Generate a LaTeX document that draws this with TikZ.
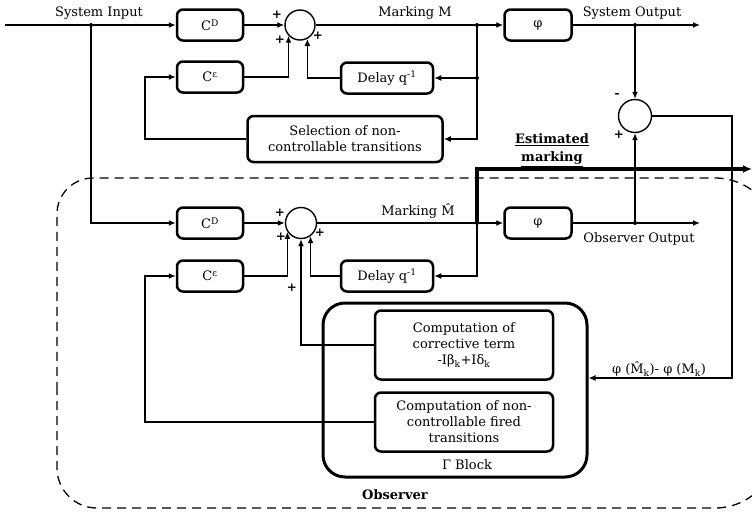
\documentclass[tikz,border=0pt]{standalone}
\usepackage{fontspec}
\setmainfont{DejaVu Serif}
\usetikzlibrary{arrows.meta,calc}
\begin{document}
\begin{tikzpicture}[x=1pt,y=-1pt,
  every node/.style={font=\fontsize{13}{16}\selectfont, inner sep=0pt},
  blk/.style={draw, line width=2.5pt, rounded corners=6pt, minimum width=66pt, minimum height=31pt, align=center},
  sumc/.style={draw, circle, line width=1.4pt, minimum size=30pt},
  wire/.style={line width=1.6pt},
  arr/.style={wire, -{Latex[length=7pt,width=6pt]}},
  thickarr/.style={line width=3.2pt, -{Latex[length=9pt,width=8pt]}},
  jdot/.style={circle, fill, minimum size=4pt},
  sgn/.style={font=\fontsize{12}{12}\bfseries\selectfont},
  boldlbl/.style={font=\fontsize{13}{18}\bfseries\selectfont, align=center}]
\useasboundingbox (0,0) rectangle (752,512);
\fill[white] (0,0) rectangle (752,512);
\clip (0,0) rectangle (752,512);

% observer frame
\draw[line width=1.3pt, dash pattern=on 9pt off 6pt] (57,350) [rounded corners=40pt] -- (57,508) -- (400,508) [rounded corners=62pt] -- (777,508) -- (777,178) -- (400,178) [rounded corners=36pt] -- (57,178) -- cycle;

% upper system
\node[blk] (cd1) at (210,25) {C\textsuperscript{D}};
\node[blk] (cs1) at (210,77) {C\textsuperscript{ε}};
\node[blk, minimum width=92pt] (dl1) at (387,78) {Delay q\textsuperscript{-1}};
\node[blk, minimum width=195pt, minimum height=46pt] (sel) at (345,139) {Selection of non-\\controllable transitions};
\node[blk, minimum width=67pt] (ph1) at (538,25) {φ};
\node[sumc] (s1) at (300,25) {};
\node[sumc, minimum size=33pt] (s3) at (635,116) {};

% observer
\node[blk] (cd2) at (210,223) {C\textsuperscript{D}};
\node[blk] (cs2) at (210,276) {C\textsuperscript{ε}};
\node[blk, minimum width=92pt] (dl2) at (387,276) {Delay q\textsuperscript{-1}};
\node[blk, minimum width=67pt] (ph2) at (538,223) {φ};
\node[sumc, minimum size=31pt] (s2) at (301,223) {};
\node[draw, line width=3pt, rounded corners=22pt, minimum width=264pt, minimum height=174pt] (gam) at (455,390) {};
\node[blk, minimum width=178pt, minimum height=69pt] (c1) at (464,345) {Computation of\\corrective term\\-Iβ\textsubscript{k}+Iδ\textsubscript{k}};
\node[blk, minimum width=178pt, minimum height=59pt] (c2) at (464,422) {Computation of non-\\controllable fired\\transitions};
\node (gl) at (467,465) {Γ Block};
\node[font=\fontsize{13}{16}\bfseries\selectfont] (obs) at (395,495) {Observer};

% labels
\node (sin) at (99,13) {System Input};
\node (mm) at (415,13) {Marking M};
\node (sout) at (632,13) {System Output};
\node (mh) at (418,211) {Marking \^{M}};
\node (oout) at (639,239) {Observer Output};
\node[boldlbl] (est) at (552,150) {\underline{Estimated}\\\underline{marking}};
\node (err) at (659,369) {φ (\^{M}\textsubscript{k})- φ (M\textsubscript{k})};

% coordinates
\coordinate (in) at (5,25);
\coordinate (b1) at (91,25);
\coordinate (bm) at (477,25);
\coordinate (bmd) at (477,78);
\coordinate (bo) at (635,25);
\coordinate (out1) at (700,25);
\coordinate (bm2) at (477,223);
\coordinate (bo2) at (635,223);
\coordinate (out2) at (700,223);
\coordinate (est1) at (477,169);
\coordinate (est2) at (752,169);
\coordinate (xl) at (145,0);
\coordinate (xr) at (732,0);
\coordinate (gy) at (0,378);

% upper wires
\draw[arr] (in) -- (cd1);
\draw[arr] (b1) |- (cd2);
\draw[arr] (cd1) -- (s1);
\draw[arr] (s1) -- (ph1);
\draw[arr] (bm) |- (dl1);
\draw[arr] (bm) |- (sel);
\draw[arr] (ph1) -- (out1);
\draw[arr] (bo) -- (s3);
\draw[arr] (dl1) -| (s1.-62);
\draw[arr] (cs1) -| (s1.-137);
\draw[arr] (sel) -| (xl |- cs1) -- (cs1);
\draw[arr] (s3) -| (xr |- gy) -- (gam.east |- gy);

% lower wires
\draw[arr] (cd2) -- (s2);
\draw[arr] (s2) -- (ph2);
\draw[arr] (bm2) |- (dl2);
\draw[thickarr] (bm2) -- (est1) -- (est2);
\draw[arr] (ph2) -- (out2);
\draw[arr] (bo2) -- (s3);
\draw[arr] (dl2) -| (s2.-54);
\draw[arr] (cs2) -| (s2.-147);
\draw[arr] (c1) -| (s2.south);
\draw[arr] (c2) -| (xl |- cs2) -- (cs2);

% junction dots
\foreach \p in {b1,bm,bmd,bo,bm2,bo2} \node[jdot] at (\p) {};

% signs
\node[sgn] (p1) at (277,15) {+};
\node[sgn] (p2) at (280,40) {+};
\node[sgn] (p3) at (318,36) {+};
\node[sgn] (p4) at (280,213) {+};
\node[sgn] (p5) at (281,237) {+};
\node[sgn] (p6) at (320,233) {+};
\node[sgn] (p7) at (292,288) {+};
\node[sgn] (m1) at (617,95) {-};
\node[sgn] (p8) at (619,135) {+};
\end{tikzpicture}
\end{document}
